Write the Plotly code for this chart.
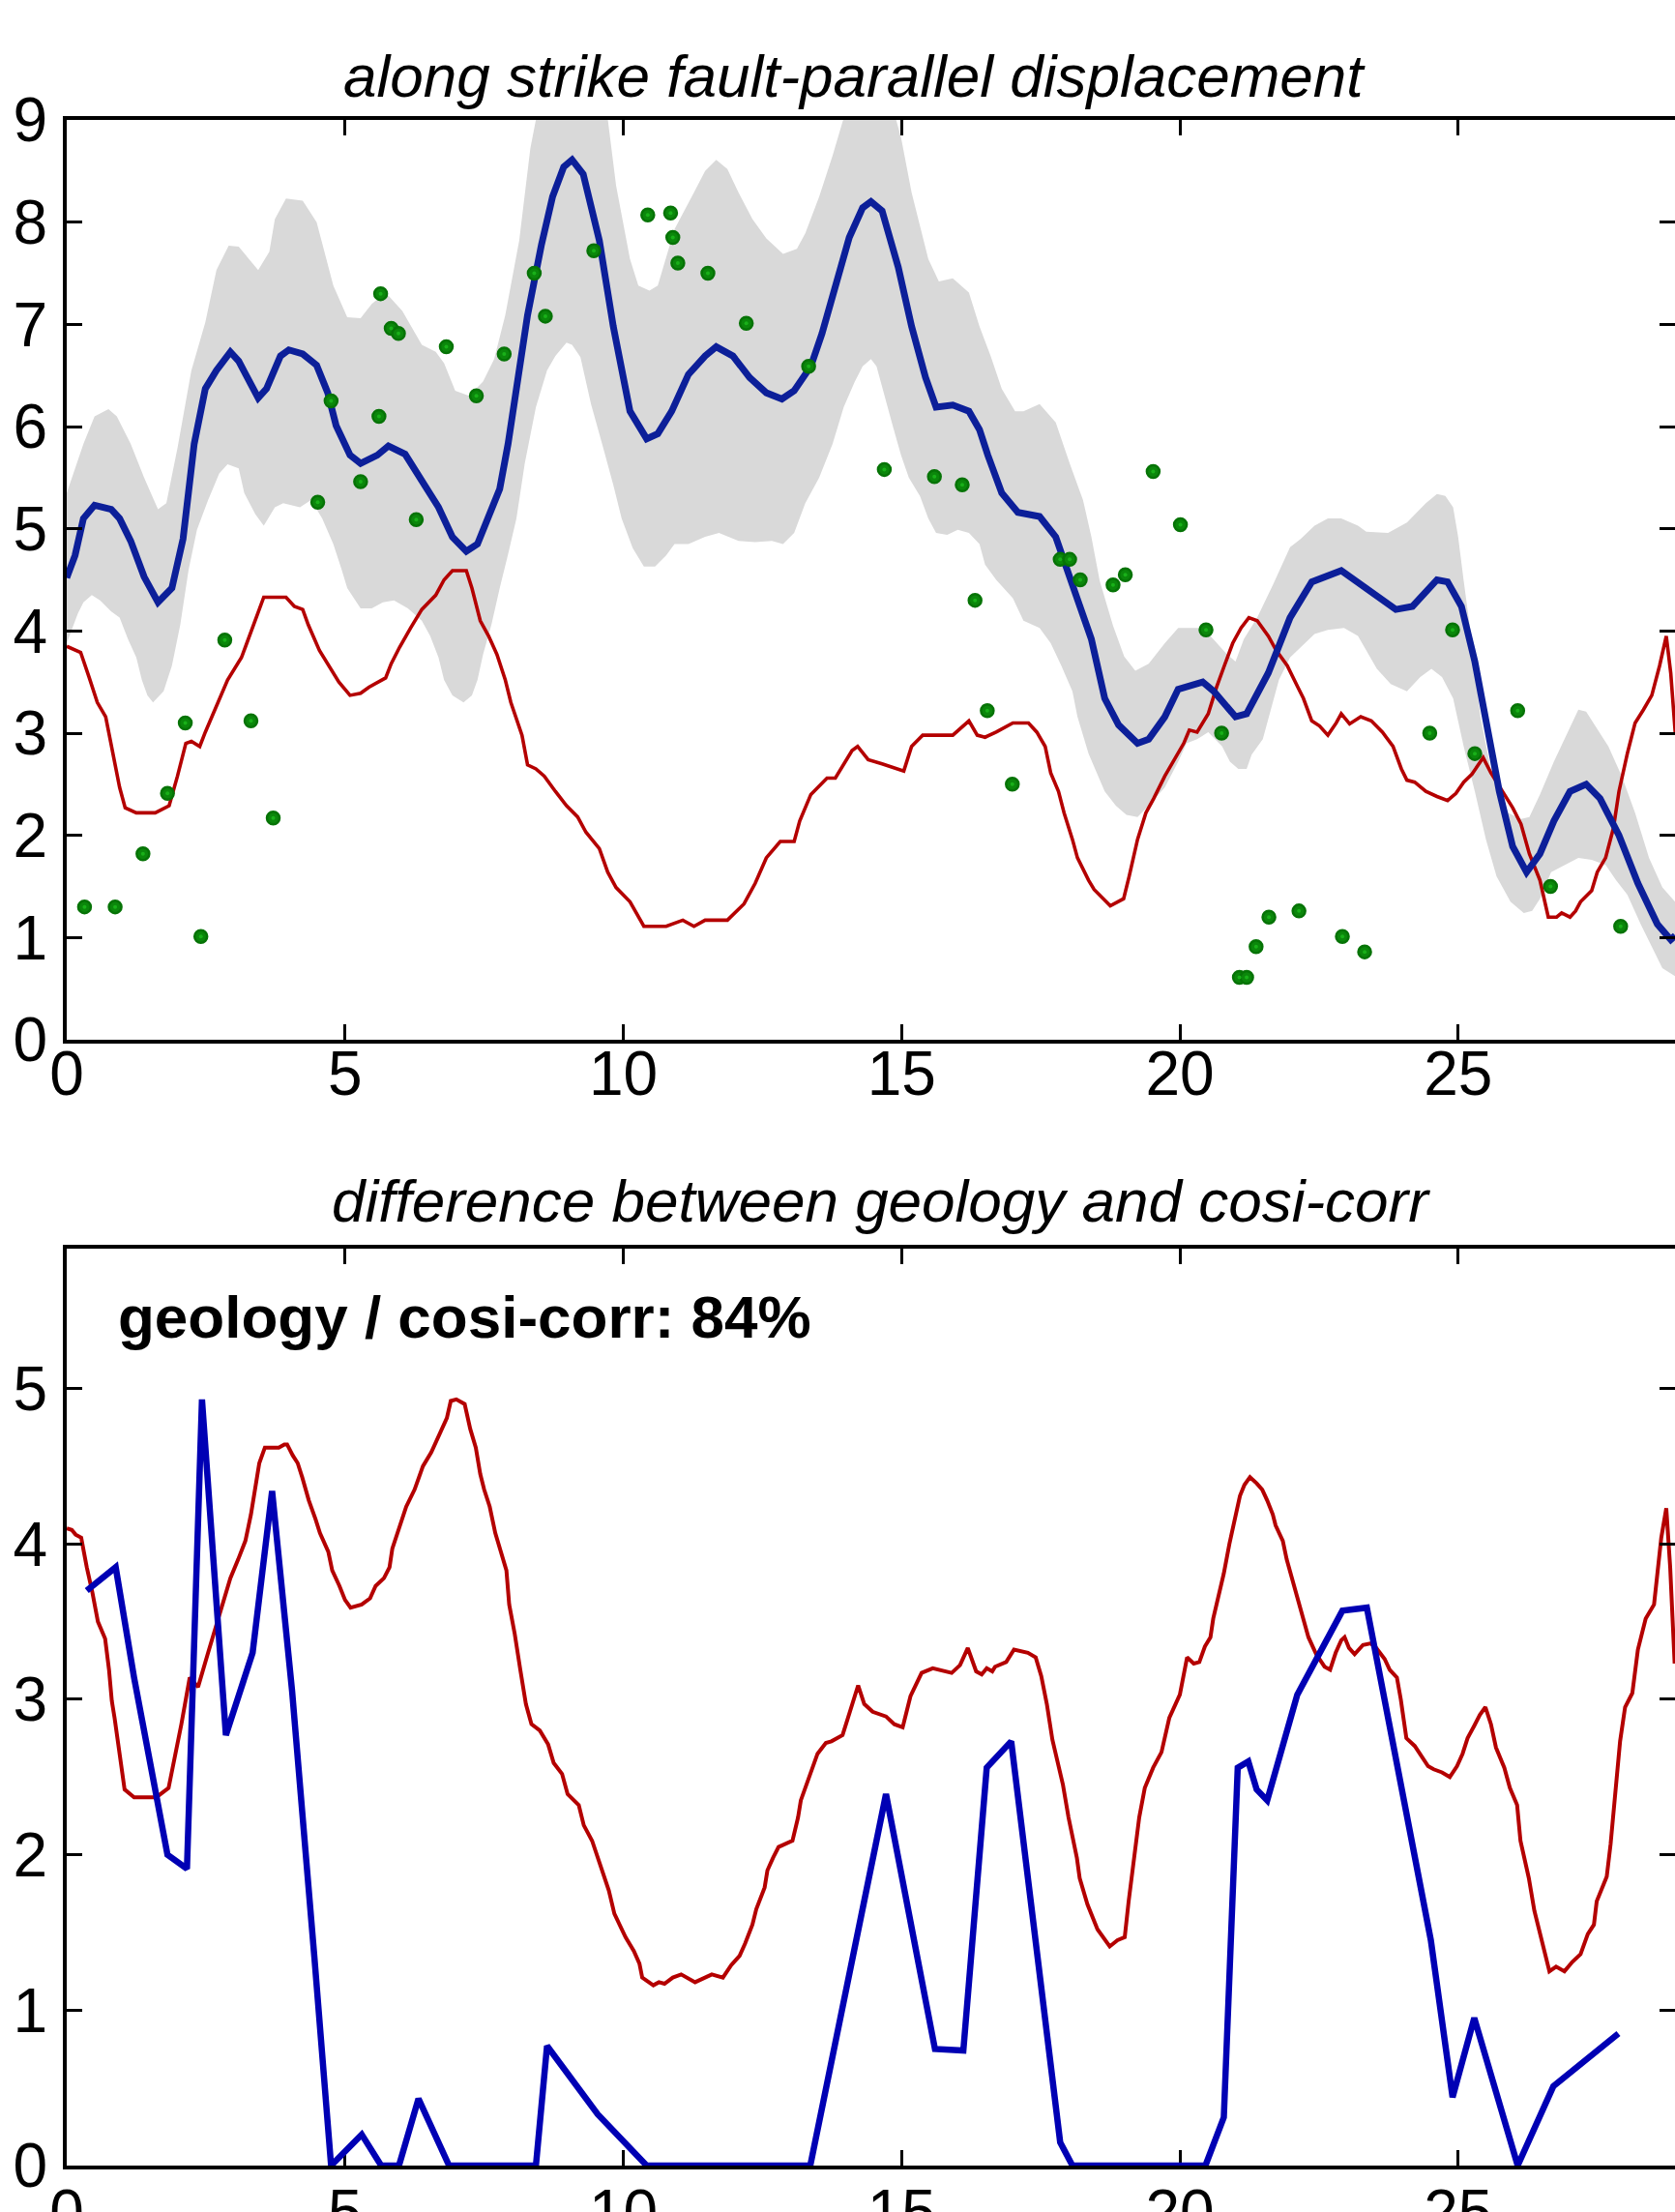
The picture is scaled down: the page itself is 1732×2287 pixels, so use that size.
import plotly.graph_objects as go

# ---------------- data ----------------
# top panel: smoothed cosi-corr profile (blue)
cosi_smooth = [(0.0,4.52),(0.15,4.74),(0.3,5.1),(0.5,5.23),(0.8,5.19),(0.95,5.1),(1.15,4.88),(1.34,4.63),
    (1.39,4.53),(1.64,4.28),(1.89,4.42),(2.09,4.9),(2.29,5.83),(2.49,6.37),(2.69,6.55),(2.94,6.73),(3.09,6.64),
    (3.44,6.28),(3.59,6.37),(3.84,6.69),(3.99,6.75),(4.24,6.71),(4.49,6.6),(4.69,6.33),(4.84,6.01),(5.09,5.72),
    (5.28,5.64),(5.58,5.72),(5.78,5.81),(6.08,5.73),(6.38,5.46),(6.68,5.21),(6.93,4.92),(7.18,4.78),(7.38,4.85),
    (7.58,5.1),(7.78,5.39),(7.93,5.83),(8.13,6.55),(8.28,7.09),(8.53,7.78),(8.73,8.25),(8.93,8.54),(9.08,8.61),
    (9.28,8.47),(9.57,7.82),(9.82,6.98),(10.12,6.15),(10.42,5.88),(10.62,5.93),(10.87,6.15),(11.17,6.51),
    (11.47,6.69),(11.67,6.78),(11.97,6.69),(12.27,6.48),(12.57,6.33),(12.85,6.27),(13.07,6.35),(13.37,6.59),
    (13.57,6.91),(13.77,7.31),(14.06,7.85),(14.3,8.14),(14.45,8.2),(14.65,8.11),(14.94,7.56),(15.18,6.98),
    (15.43,6.48),(15.62,6.19),(15.92,6.21),(16.21,6.15),(16.4,5.97),(16.55,5.72),(16.8,5.35),(17.09,5.16),
    (17.48,5.12),(17.77,4.92),(17.97,4.59),(18.16,4.31),(18.41,3.92),(18.65,3.34),(18.9,3.08),(19.24,2.9),
    (19.44,2.94),(19.73,3.16),(19.97,3.43),(20.41,3.5),(20.61,3.41),(21.0,3.16),(21.2,3.19),(21.59,3.59),
    (21.98,4.13),(22.37,4.48),(22.9,4.59),(23.35,4.42),(23.88,4.21),(24.18,4.24),(24.42,4.37),(24.62,4.5),
    (24.81,4.48),(25.06,4.24),(25.3,3.7),(25.5,3.08),(25.74,2.43),(25.98,1.89),(26.23,1.64),(26.47,1.82),
    (26.72,2.14),(27.01,2.43),(27.3,2.5),(27.55,2.36),(27.89,2.0),(28.23,1.53),(28.58,1.13),(28.82,0.98),(28.9,1.02)]

# top panel: uncertainty band (grey), upper and lower limits
band_upper = [(0.0,5.35),(0.3,5.83),(0.5,6.1),(0.75,6.17),(0.9,6.1),(1.15,5.83),(1.39,5.5),(1.64,5.19),(1.79,5.25),
    (1.99,5.79),(2.24,6.55),(2.49,7.02),(2.69,7.53),(2.91,7.77),(3.09,7.76),(3.44,7.53),(3.64,7.71),(3.74,8.03),
    (3.94,8.23),(4.24,8.21),(4.49,8.0),(4.79,7.38),(5.04,7.07),(5.28,7.06),(5.48,7.2),(5.73,7.31),(6.03,7.13),
    (6.38,6.8),(6.63,6.73),(6.78,6.62),(6.98,6.35),(7.23,6.3),(7.48,6.44),(7.68,6.66),(7.88,7.09),(8.13,7.82),
    (8.33,8.72),(8.5,9.2),(8.8,9.5),(9.1,9.6),(9.4,9.5),(9.7,9.1),(9.87,8.36),(10.12,7.64),(10.27,7.38),
    (10.47,7.33),(10.62,7.38),(10.92,7.93),(11.27,8.29),(11.47,8.5),(11.67,8.61),(11.87,8.52),(12.07,8.29),
    (12.32,8.03),(12.57,7.84),(12.87,7.69),(13.12,7.74),(13.27,7.89),(13.52,8.25),(13.76,8.65),(13.95,9.0),
    (14.2,9.3),(14.45,9.45),(14.75,9.3),(14.99,8.83),(15.18,8.29),(15.48,7.64),(15.67,7.42),(15.92,7.45),
    (16.21,7.31),(16.4,6.98),(16.6,6.69),(16.8,6.37),(17.04,6.15),(17.19,6.15),(17.48,6.22),(17.77,6.04),
    (18.02,5.64),(18.26,5.28),(18.41,4.92),(18.56,4.49),(18.8,4.05),(19.0,3.75),(19.2,3.61),(19.44,3.68),
    (19.73,3.88),(19.97,4.03),(20.41,4.03),(20.6,3.92),(20.85,3.77),(21.0,3.7),(21.15,3.92),(21.39,4.13),
    (21.68,4.46),(21.98,4.82),(22.17,4.9),(22.42,5.03),(22.66,5.1),(22.9,5.1),(23.2,5.03),(23.35,4.97),
    (23.74,4.96),(24.08,5.06),(24.42,5.25),(24.62,5.34),(24.77,5.32),(24.91,5.21),(25.0,4.92),(25.1,4.49),
    (25.25,3.88),(25.4,3.16),(25.6,2.61),(25.9,2.22),(26.13,2.16),(26.28,2.18),(26.47,2.4),(26.72,2.72),
    (26.91,2.94),(27.16,3.23),(27.3,3.21),(27.45,3.08),(27.7,2.87),(27.94,2.58),(28.18,2.22),(28.43,1.78),
    (28.67,1.49),(28.9,1.35)]

band_lower = [(0.0,3.88),(0.2,4.17),(0.3,4.28),(0.45,4.35),(0.6,4.3),(0.8,4.19),(0.95,4.13),(1.1,3.92),(1.25,3.74),
    (1.35,3.52),(1.45,3.37),(1.55,3.3),(1.74,3.41),(1.89,3.66),(2.04,4.06),(2.19,4.6),(2.34,4.99),(2.54,5.28),
    (2.74,5.54),(2.89,5.63),(3.09,5.59),(3.19,5.35),(3.39,5.14),(3.54,5.03),(3.74,5.21),(3.89,5.25),(4.19,5.21),
    (4.39,5.28),(4.59,5.1),(4.79,4.85),(4.94,4.6),(5.04,4.42),(5.28,4.22),(5.48,4.22),(5.68,4.28),(5.88,4.3),
    (6.13,4.22),(6.38,4.1),(6.53,3.95),(6.68,3.74),(6.78,3.52),(6.93,3.37),(7.13,3.3),(7.28,3.37),(7.38,3.52),
    (7.48,3.77),(7.63,4.06),(7.78,4.42),(7.93,4.75),(8.08,5.1),(8.23,5.64),(8.43,6.19),(8.63,6.55),(8.78,6.69),
    (8.98,6.82),(9.08,6.8),(9.23,6.68),(9.42,6.22),(9.62,5.83),(9.82,5.43),(9.97,5.1),(10.17,4.81),(10.37,4.63),
    (10.57,4.63),(10.77,4.74),(10.92,4.85),(11.17,4.85),(11.47,4.92),(11.72,4.96),(12.07,4.88),(12.37,4.87),
    (12.67,4.88),(12.87,4.85),(13.07,4.96),(13.27,5.25),(13.52,5.5),(13.76,5.83),(13.96,6.19),(14.16,6.44),
    (14.3,6.59),(14.45,6.66),(14.55,6.59),(14.7,6.3),(14.84,6.01),(14.99,5.72),(15.13,5.5),(15.33,5.32),
    (15.48,5.1),(15.62,4.96),(15.82,4.94),(16.01,4.99),(16.21,4.96),(16.4,4.85),(16.5,4.65),(16.7,4.5),
    (17.0,4.32),(17.19,4.1),(17.48,4.03),(17.68,3.88),(17.87,3.66),(18.07,3.41),(18.16,3.16),(18.36,2.8),
    (18.51,2.61),(18.65,2.43),(18.85,2.29),(19.04,2.2),(19.24,2.18),(19.44,2.29),(19.73,2.47),(19.97,2.72),
    (20.12,2.9),(20.31,2.94),(20.51,3.01),(20.76,2.87),(20.9,2.72),(21.05,2.65),(21.2,2.65),(21.29,2.79),
    (21.49,2.94),(21.63,3.23),(21.78,3.52),(21.98,3.74),(22.17,3.84),(22.42,3.97),(22.66,4.01),(22.95,4.03),
    (23.2,3.95),(23.35,3.81),(23.54,3.63),(23.79,3.48),(24.08,3.41),(24.32,3.55),(24.52,3.63),(24.71,3.55),
    (24.91,3.34),(25.1,2.87),(25.3,2.43),(25.5,1.96),(25.69,1.6),(25.94,1.35),(26.18,1.24),(26.33,1.26),
    (26.47,1.38),(26.67,1.64),(26.91,1.71),(27.16,1.78),(27.4,1.76),(27.65,1.71),(27.84,1.56),(28.04,1.42),
    (28.28,1.13),(28.48,0.91),(28.67,0.7),(28.9,0.62)]

# top panel: geology-derived profile (red)
geology_top = [(0.0,3.85),(0.25,3.79),(0.4,3.55),(0.55,3.3),(0.7,3.16),(0.85,2.72),(0.95,2.47),(1.05,2.27),
    (1.25,2.22),(1.59,2.22),(1.84,2.29),(1.99,2.58),(2.14,2.9),(2.24,2.92),(2.39,2.87),(2.49,3.01),(2.69,3.27),
    (2.89,3.52),(3.14,3.74),(3.34,4.03),(3.54,4.33),(3.94,4.33),(4.09,4.24),(4.24,4.21),(4.34,4.06),(4.54,3.81),
    (4.74,3.63),(4.89,3.5),(5.09,3.37),(5.28,3.39),(5.43,3.45),(5.58,3.5),(5.73,3.54),(5.83,3.68),(5.98,3.84),
    (6.18,4.03),(6.38,4.21),(6.63,4.35),(6.78,4.5),(6.93,4.59),(7.18,4.59),(7.28,4.42),(7.43,4.1),(7.58,3.95),
    (7.73,3.77),(7.88,3.52),(7.98,3.3),(8.18,2.98),(8.28,2.69),(8.43,2.65),(8.58,2.58),(8.78,2.43),(8.98,2.29),
    (9.18,2.18),(9.33,2.03),(9.57,1.87),(9.72,1.64),(9.87,1.49),(10.12,1.35),(10.37,1.11),(10.77,1.11),
    (11.07,1.17),(11.27,1.11),(11.47,1.17),(11.87,1.17),(12.17,1.33),(12.37,1.53),(12.57,1.78),(12.82,1.94),
    (13.07,1.94),(13.17,2.14),(13.37,2.4),(13.66,2.56),(13.81,2.56),(13.96,2.69),(14.11,2.83),(14.21,2.87),
    (14.4,2.74),(14.65,2.7),(14.84,2.67),(15.04,2.63),(15.18,2.87),(15.38,2.98),(15.92,2.98),(16.06,3.05),
    (16.21,3.12),(16.36,2.98),(16.5,2.96),(16.7,3.01),(17.0,3.1),(17.28,3.1),(17.43,3.01),(17.58,2.87),
    (17.68,2.61),(17.82,2.43),(17.92,2.22),(18.07,1.96),(18.16,1.78),(18.36,1.56),(18.46,1.47),(18.75,1.31),
    (18.99,1.38),(19.09,1.6),(19.24,1.96),(19.39,2.22),(19.53,2.36),(19.73,2.58),(19.92,2.76),(20.07,2.9),
    (20.17,3.03),(20.31,3.01),(20.51,3.19),(20.66,3.45),(20.8,3.66),(20.95,3.88),(21.1,4.03),(21.24,4.13),
    (21.39,4.1),(21.59,3.95),(21.73,3.81),(21.93,3.66),(22.12,3.45),(22.22,3.34),(22.37,3.12),(22.51,3.07),
    (22.66,2.98),(22.81,3.1),(22.9,3.19),(23.05,3.09),(23.25,3.16),(23.44,3.12),(23.64,3.01),(23.83,2.87),
    (23.98,2.65),(24.08,2.54),(24.22,2.52),(24.42,2.43),(24.62,2.38),(24.81,2.34),(24.96,2.41),(25.1,2.52),
    (25.25,2.6),(25.45,2.76),(25.59,2.61),(25.79,2.43),(25.98,2.27),(26.13,2.11),(26.28,1.82),(26.47,1.56),
    (26.62,1.2),(26.77,1.2),(26.86,1.24),(27.01,1.2),(27.11,1.26),(27.2,1.35),(27.4,1.46),(27.5,1.64),
    (27.65,1.78),(27.79,2.07),(27.89,2.43),(28.04,2.8),(28.18,3.1),(28.33,3.23),(28.48,3.37),(28.62,3.66),
    (28.74,3.95),(28.82,3.59),(28.9,3.01)]

# top panel: field offsets (green dots)
field_offsets = [(0.32,1.30),(0.87,1.30),(1.37,1.82),(1.81,2.41),(2.13,3.10),(2.41,1.01),(2.84,3.91),(3.31,3.12),
    (3.71,2.17),(4.51,5.26),(4.75,6.25),(5.28,5.46),(5.61,6.1),(5.64,7.30),(5.83,6.96),(5.96,6.91),(6.28,5.09),
    (6.82,6.78),(7.36,6.30),(7.86,6.71),(8.4,7.5),(8.6,7.08),(9.47,7.72),(10.44,8.07),(10.85,8.09),(10.89,7.85),
    (10.98,7.60),(11.52,7.5),(12.21,7.01),(13.33,6.59),(14.69,5.58),(15.59,5.51),(16.09,5.43),(16.32,4.3),
    (16.54,3.22),(16.99,2.5),(17.85,4.70),(18.02,4.70),(18.21,4.5),(18.8,4.45),(19.02,4.55),(19.52,5.56),
    (20.01,5.04),(20.47,4.01),(20.75,3.0),(21.07,0.61),(21.2,0.61),(21.37,0.91),(21.6,1.2),(22.14,1.26),
    (22.92,1.01),(23.32,0.86),(24.49,3.0),(24.9,4.01),(25.3,2.8),(26.07,3.22),(26.66,1.5),(27.92,1.11)]

# bottom panel: differences
diff_cosi = [(0.36,3.70),(0.88,3.85),(1.21,3.14),(1.81,2.0),(2.16,1.91),(2.43,4.93),(2.86,2.77),(3.34,3.30),
    (3.69,4.34),(4.05,3.05),(4.45,1.34),(4.75,0.0),(5.3,0.2),(5.65,0.0),(5.97,0.0),(6.32,0.43),(6.87,0.0),
    (8.43,0.0),(8.63,0.77),(9.54,0.33),(10.42,0.0),(13.36,0.0),(14.72,2.39),(15.6,0.75),(16.11,0.74),
    (16.53,2.56),(16.97,2.73),(17.85,0.15),(18.07,0.0),(20.46,0.0),(20.79,0.31),(21.04,2.56),(21.23,2.6),
    (21.38,2.42),(21.57,2.35),(22.11,3.03),(22.92,3.57),(23.36,3.59),(24.51,1.45),(24.9,0.44),(25.29,0.95),
    (26.07,0.0),(26.71,0.51),(27.88,0.85)]

diff_geology = [(0.0,4.1),(0.09,4.09),(0.16,4.06),(0.26,4.04),(0.36,3.85),(0.46,3.69),(0.56,3.5),(0.69,3.39),
    (0.76,3.19),(0.81,2.99),(0.86,2.88),(0.98,2.6),(1.04,2.42),(1.21,2.37),(1.61,2.37),(1.83,2.43),(1.94,2.62),
    (2.06,2.84),(2.21,3.14),(2.36,3.08),(2.54,3.3),(2.71,3.5),(2.86,3.69),(2.94,3.78),(3.08,3.9),(3.21,4.02),
    (3.31,4.19),(3.38,4.33),(3.46,4.52),(3.56,4.62),(3.81,4.62),(3.91,4.64),(3.96,4.64),(4.06,4.57),(4.15,4.52),
    (4.23,4.43),(4.35,4.28),(4.47,4.16),(4.55,4.07),(4.7,3.95),(4.77,3.83),(4.9,3.73),(5.0,3.64),(5.1,3.59),
    (5.3,3.61),(5.45,3.65),(5.55,3.73),(5.7,3.78),(5.8,3.85),(5.85,3.97),(6.0,4.14),(6.1,4.24),(6.25,4.35),
    (6.4,4.5),(6.55,4.59),(6.7,4.71),(6.83,4.81),(6.9,4.92),(7.0,4.93),(7.15,4.9),(7.25,4.74),(7.35,4.62),
    (7.43,4.45),(7.5,4.35),(7.6,4.24),(7.7,4.07),(7.8,3.95),(7.9,3.83),(7.95,3.61),(8.05,3.42),(8.15,3.19),
    (8.25,2.97),(8.35,2.84),(8.5,2.8),(8.65,2.71),(8.75,2.59),(8.9,2.52),(9.0,2.39),(9.2,2.32),(9.29,2.19),
    (9.44,2.09),(9.59,1.92),(9.74,1.77),(9.84,1.62),(10.04,1.47),(10.19,1.38),(10.29,1.3),(10.34,1.21),
    (10.54,1.16),(10.64,1.18),(10.74,1.17),(10.89,1.21),(11.04,1.23),(11.29,1.18),(11.59,1.23),(11.79,1.21),
    (11.94,1.29),(12.09,1.35),(12.19,1.43),(12.32,1.55),(12.39,1.65),(12.54,1.79),(12.59,1.9),(12.69,1.98),
    (12.79,2.05),(13.04,2.09),(13.14,2.24),(13.19,2.35),(13.39,2.56),(13.49,2.65),(13.64,2.72),(13.74,2.73),
    (13.94,2.77),(14.04,2.88),(14.22,3.09),(14.33,2.97),(14.48,2.92),(14.72,2.89),(14.87,2.84),(15.02,2.82),
    (15.16,3.02),(15.36,3.17),(15.56,3.2),(15.9,3.17),(16.05,3.22),(16.19,3.33),(16.34,3.18),(16.44,3.16),
    (16.53,3.2),(16.63,3.18),(16.68,3.21),(16.88,3.24),(17.02,3.32),(17.27,3.3),(17.41,3.27),(17.51,3.15),
    (17.61,2.97),(17.71,2.74),(17.76,2.66),(17.9,2.45),(18.0,2.24),(18.15,1.98),(18.2,1.85),(18.34,1.68),
    (18.52,1.52),(18.74,1.41),(18.88,1.45),(19.01,1.47),(19.08,1.7),(19.18,1.98),(19.27,2.24),(19.37,2.43),
    (19.52,2.56),(19.67,2.66),(19.81,2.88),(20.0,3.03),(20.13,3.27),(20.25,3.23),(20.35,3.24),(20.45,3.34),
    (20.55,3.4),(20.6,3.52),(20.69,3.66),(20.79,3.81),(20.89,4.0),(20.99,4.16),(21.08,4.31),(21.16,4.38),
    (21.26,4.43),(21.38,4.39),(21.48,4.35),(21.57,4.28),(21.67,4.19),(21.72,4.12),(21.85,4.02),(21.92,3.9),
    (22.01,3.78),(22.11,3.66),(22.21,3.51),(22.31,3.4),(22.45,3.29),(22.6,3.21),(22.7,3.19),(22.8,3.3),
    (22.9,3.38),(22.96,3.4),(23.04,3.33),(23.14,3.29),(23.29,3.35),(23.43,3.36),(23.53,3.33),(23.68,3.26),
    (23.77,3.19),(23.9,3.14),(23.97,3.0),(24.07,2.75),(24.22,2.7),(24.31,2.65),(24.46,2.57),(24.56,2.55),
    (24.71,2.53),(24.85,2.5),(24.98,2.57),(25.08,2.65),(25.17,2.75),(25.29,2.83),(25.39,2.9),(25.49,2.95),
    (25.59,2.84),(25.68,2.69),(25.83,2.56),(25.93,2.43),(26.06,2.32),(26.12,2.09),(26.27,1.85),(26.37,1.64),
    (26.51,1.43),(26.64,1.25),(26.76,1.28),(26.91,1.25),(27.05,1.31),(27.2,1.36),(27.33,1.49),(27.44,1.55),
    (27.49,1.7),(27.59,1.79),(27.67,1.86),(27.74,2.07),(27.82,2.41),(27.91,2.73),(28.0,2.95),(28.13,3.04),
    (28.23,3.32),(28.37,3.52),(28.52,3.61),(28.65,4.04),(28.74,4.23),(28.81,3.85),(28.89,3.23)]

top_yticks = [0, 1, 2, 3, 4, 5, 6, 7, 8, 9]
bottom_yticks = [0, 1, 2, 3, 4, 5]
xticks = [0, 5, 10, 15, 20, 25]

title_top = "along strike fault-parallel displacement"
title_bottom = "difference between geology and cosi-corr"
ratio_label = "geology / cosi-corr: 84%"


def xs(pairs):
    return [p[0] for p in pairs]


def ys(pairs):
    return [p[1] for p in pairs]


# ---------------- figure ----------------
W, H = 1732, 2287
ML = 69
FONT = "Liberation Sans, Arial, Helvetica, sans-serif"
TICKSIZE = 64
TITLESIZE = 62

fig = go.Figure()

# grey band polygon
fig.add_trace(go.Scatter(
    x=xs(band_upper) + xs(band_lower)[::-1],
    y=ys(band_upper) + ys(band_lower)[::-1],
    fill="toself", fillcolor="#d9d9d9", line=dict(width=0, color="#d9d9d9"),
    mode="lines", hoverinfo="skip", showlegend=False, xaxis="x", yaxis="y"))

fig.add_trace(go.Scatter(x=xs(geology_top), y=ys(geology_top), mode="lines",
                         line=dict(color="#b40000", width=3.6), showlegend=False,
                         xaxis="x", yaxis="y"))
fig.add_trace(go.Scatter(x=xs(cosi_smooth), y=ys(cosi_smooth), mode="lines",
                         line=dict(color="#0c1f99", width=7), showlegend=False,
                         xaxis="x", yaxis="y"))
fig.add_trace(go.Scatter(x=xs(field_offsets), y=ys(field_offsets), mode="markers",
                         marker=dict(size=13, color="#0b870b",
                                     line=dict(color="#067306", width=2.5)),
                         showlegend=False, xaxis="x", yaxis="y3"))
fig.add_trace(go.Scatter(x=xs(field_offsets), y=ys(field_offsets), mode="markers",
                         marker=dict(size=4, color="#19b019", line=dict(width=0)),
                         hoverinfo="skip", showlegend=False, xaxis="x", yaxis="y3"))

fig.add_trace(go.Scatter(x=xs(diff_geology), y=ys(diff_geology), mode="lines",
                         line=dict(color="#b40000", width=4), showlegend=False,
                         xaxis="x2", yaxis="y2"))
fig.add_trace(go.Scatter(x=xs(diff_cosi), y=ys(diff_cosi), mode="lines",
                         line=dict(color="#0000b4", width=6.5), showlegend=False,
                         cliponaxis=False, xaxis="x2", yaxis="y4"))


def px_y(py):
    return (H - py) / H


def px_x(pxv):
    return (pxv - ML) / (W - ML)


XMAX = (W - ML) / 57.55

common_tick = dict(ticks="inside", ticklen=16, tickwidth=3, tickcolor="black",
                   showgrid=False, zeroline=False,
                   tickfont=dict(family=FONT, size=TICKSIZE, color="black"))

xax = dict(range=[0, XMAX], domain=[0, 1], tickvals=xticks, showline=True,
           linewidth=4, linecolor="black", mirror="ticks", **common_tick)

top_dom = [px_y(1075), px_y(124)]
bot_dom = [px_y(2239), px_y(1291)]

fig.update_layout(
    width=W, height=H,
    margin=dict(l=ML, r=0, t=0, b=0, autoexpand=False),
    paper_bgcolor="white", plot_bgcolor="white",
    showlegend=False,
    xaxis=dict(anchor="y", ticklabelstandoff=-24, **xax),
    xaxis2=dict(anchor="y2", ticklabelstandoff=-11, layer="below traces", **xax),
    yaxis=dict(domain=top_dom, range=[0, 9], tickvals=top_yticks, anchor="x",
               showline=True, linewidth=4, linecolor="black", mirror=False,
               ticklabelstandoff=3, **common_tick),
    yaxis3=dict(overlaying="y", side="right", anchor="x", range=[0, 9],
                tickvals=top_yticks, showline=False, showticklabels=False,
                **common_tick),
    yaxis2=dict(domain=bot_dom, range=[0, 5.9], tickvals=bottom_yticks, anchor="x2",
                showline=True, linewidth=4, linecolor="black", mirror=False,
                ticklabelstandoff=3, **common_tick),
    yaxis4=dict(overlaying="y2", side="right", anchor="x2", range=[0, 5.9],
                tickvals=bottom_yticks, showline=False, showticklabels=False,
                **common_tick),
    annotations=[
        dict(text="<i>" + title_top + "</i>", xref="paper", yref="paper",
             x=px_x(883), y=px_y(78), xanchor="center", yanchor="middle",
             showarrow=False, font=dict(family=FONT, size=TITLESIZE, color="black")),
        dict(text="<i>" + title_bottom + "</i>", xref="paper", yref="paper",
             x=px_x(911), y=px_y(1241), xanchor="center", yanchor="middle",
             showarrow=False, font=dict(family=FONT, size=TITLESIZE, color="black")),
        dict(text="<b>" + ratio_label + "</b>", xref="paper", yref="paper",
             x=px_x(120), y=px_y(1362), xanchor="left", yanchor="middle",
             showarrow=False, font=dict(family=FONT, size=62, color="black")),
    ],
)

fig.write_html("out.html")
